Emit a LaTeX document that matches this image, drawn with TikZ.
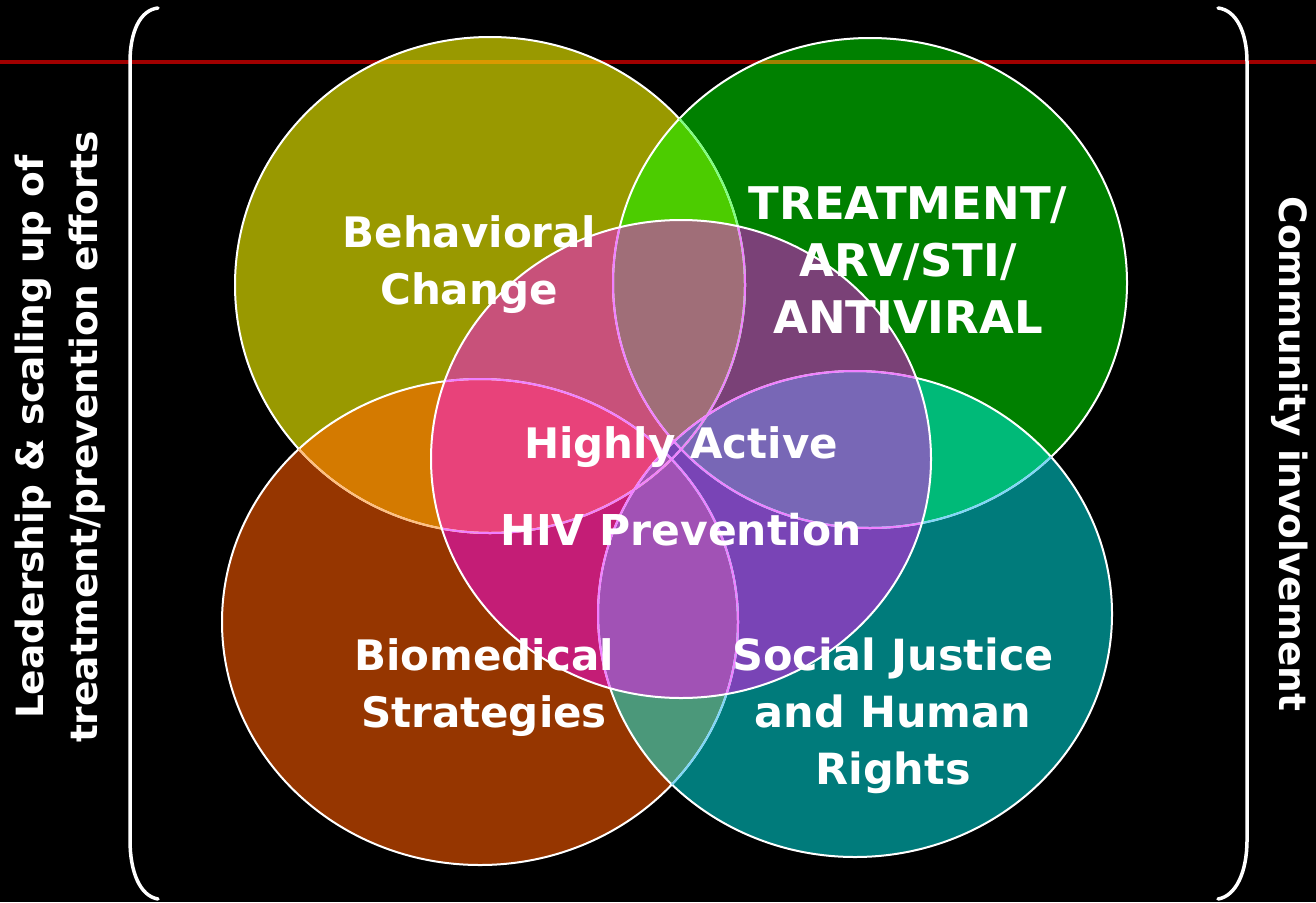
\documentclass[tikz,border=0pt]{standalone}
\usepackage{fontspec}
\setmainfont{DejaVu Sans}
\definecolor{pOlive}{HTML}{999900}
\definecolor{pGreen}{HTML}{008000}
\definecolor{pBrown}{HTML}{963600}
\definecolor{pTeal}{HTML}{007B7B}
\definecolor{pOliveGreen}{HTML}{4CCC00}
\definecolor{pOliveBrown}{HTML}{D47A00}
\definecolor{pGreenTeal}{HTML}{00BA78}
\definecolor{pBrownTeal}{HTML}{4B987A}
\definecolor{pCore}{HTML}{8A78B4}
\definecolor{pCoreOlive}{HTML}{C8517A}
\definecolor{pCoreGreen}{HTML}{7A4177}
\definecolor{pCoreBrown}{HTML}{C41D76}
\definecolor{pCoreTeal}{HTML}{7944B6}
\definecolor{pCoreOliveGreen}{HTML}{A06E78}
\definecolor{pCoreOliveBrown}{HTML}{E8427A}
\definecolor{pCoreGreenTeal}{HTML}{7867B6}
\definecolor{pCoreBrownTeal}{HTML}{A152B5}
\definecolor{pEdgeCore}{HTML}{F080FF}
\definecolor{pRule}{HTML}{A00000}
\newcommand{\pOlivePath}{(490,285) ellipse [x radius=255pt, y radius=248pt]}
\newcommand{\pGreenPath}{(870,283) ellipse [x radius=257pt, y radius=245pt]}
\newcommand{\pBrownPath}{(480,622) ellipse [x radius=258pt, y radius=243pt]}
\newcommand{\pTealPath}{(855,614) ellipse [x radius=257pt, y radius=243pt]}
\newcommand{\pCorePath}{(681,459) ellipse [x radius=250pt, y radius=239pt]}
\newcommand{\pLensFill}[3]{\begin{scope}\clip #1;\fill[#3] #2;\end{scope}}
\newcommand{\pTripleFill}[4]{\begin{scope}\clip #1;\clip #2;\fill[#4] #3;\end{scope}}
\newcommand{\pLensDraw}[3]{\begin{scope}\clip #1;\draw[#3, line width=2pt] #2;\end{scope}}
\newcommand{\pVennSize}[1]{\fontsize{#1}{57}\selectfont\bfseries}
\tikzset{
  venn label/.style={text=white, align=center, inner sep=0pt, font={\pVennSize{42}}},
  side note/.style={text=white, align=center, inner sep=0pt, font={\fontsize{37.5}{54}\selectfont\bfseries}},
  bracket line/.style={white, line width=3.5pt, line cap=round}
}

\begin{document}
\begin{tikzpicture}[x=1pt,y=-1pt]
\useasboundingbox (0,0) rectangle (1316,902);
\fill[black] (0,0) rectangle (1316,902);
\fill[pOlive] \pOlivePath;
\fill[pGreen] \pGreenPath;
\fill[pBrown] \pBrownPath;
\fill[pTeal] \pTealPath;
\pLensFill{\pOlivePath}{\pGreenPath}{pOliveGreen}
\pLensFill{\pOlivePath}{\pBrownPath}{pOliveBrown}
\pLensFill{\pGreenPath}{\pTealPath}{pGreenTeal}
\pLensFill{\pBrownPath}{\pTealPath}{pBrownTeal}
\fill[pCore] \pCorePath;
\pLensFill{\pCorePath}{\pOlivePath}{pCoreOlive}
\pLensFill{\pCorePath}{\pGreenPath}{pCoreGreen}
\pLensFill{\pCorePath}{\pBrownPath}{pCoreBrown}
\pLensFill{\pCorePath}{\pTealPath}{pCoreTeal}
\pTripleFill{\pCorePath}{\pOlivePath}{\pGreenPath}{pCoreOliveGreen}
\pTripleFill{\pCorePath}{\pOlivePath}{\pBrownPath}{pCoreOliveBrown}
\pTripleFill{\pCorePath}{\pGreenPath}{\pTealPath}{pCoreGreenTeal}
\pTripleFill{\pCorePath}{\pBrownPath}{\pTealPath}{pCoreBrownTeal}
\draw[white, line width=2pt] \pOlivePath \pGreenPath \pBrownPath \pTealPath;
\pLensDraw{\pGreenPath}{\pOlivePath}{green!50!white}
\pLensDraw{\pBrownPath}{\pOlivePath}{orange!50!white}
\pLensDraw{\pTealPath}{\pGreenPath \pBrownPath}{cyan!50!white}
\pLensDraw{\pCorePath}{\pOlivePath \pGreenPath \pBrownPath \pTealPath}{pEdgeCore}
\draw[white, line width=2pt] \pCorePath;
\begin{scope}[blend mode=screen]
\draw[pRule, line width=3.5pt] (0,62) -- (1316,62);
\end{scope}
\draw[bracket line] (158,8) .. controls (140,10) and (130,32) .. (130,62) -- (130,840) .. controls (130,872) and (140,896) .. (158,899);
\draw[bracket line] (1218,8) .. controls (1236,10) and (1247,32) .. (1247,62) -- (1247,840) .. controls (1247,872) and (1236,896) .. (1218,899);
\node[venn label] (behav) at (469,265) {Behavioral\\Change};
\node[venn label, font={\pVennSize{45}}] (treat) at (908,260) {TREATMENT/\\ARV/STI/\\ANTIVIRAL};
\node[venn label] (biomed) at (484,688) {Biomedical\\Strategies};
\node[venn label, font={\pVennSize{43}}] (social) at (893,716) {Social Justice\\and Human\\Rights};
\node[venn label] (highly) at (681,447) {Highly Active};
\node[venn label, font={\pVennSize{42.5}}] (hivprev) at (681,530) {HIV Prevention};
\node[side note, rotate=90] (leader) at (60,437) {Leadership \& scaling up of\\treatment/prevention efforts};
\node[side note, rotate=-90] (community) at (1290,454) {Community involvement};
\end{tikzpicture}
\end{document}
